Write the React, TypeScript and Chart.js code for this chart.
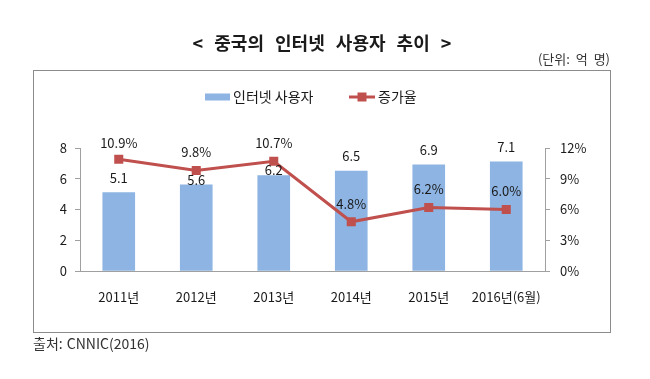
import React, { useEffect, useRef } from 'react';
import { Chart, registerables } from 'chart.js';

Chart.register(...registerables);

const categories = ['2011년', '2012년', '2013년', '2014년', '2015년', '2016년(6월)'];
const users = [5.1, 5.6, 6.2, 6.5, 6.9, 7.1];
const growth = [10.9, 9.8, 10.7, 4.8, 6.2, 6.0];
const seriesNames = ['인터넷 사용자', '증가율'];
const userAxis = { min: 0, max: 8, step: 2 };
const growthAxis = { min: 0, max: 12, step: 3 };
const titleText = '< 중국의 인터넷 사용자 추이 >';
const unitText = '(단위: 억 명)';
const sourceText = '출처: CNNIC(2016)';

// label lift above bar top / point (px)
const barLabelLift = [15, 5, 6, 15, 15, 15];
const pointLabelLift = [16, 18, 18, 18, 18, 18];

const FONT = '"Noto Sans CJK KR", "Noto Sans", sans-serif';
const BAR = '#8db4e2';
const RED = '#c0504d';
const AXIS = '#a0a0a0';
const TEXT = '#1a1a1a';

const decoPlugin = {
  id: 'deco',
  beforeDraw(chart: any) {
    const ctx = chart.ctx;
    ctx.save();
    ctx.fillStyle = '#ffffff';
    ctx.fillRect(0, 0, chart.width, chart.height);
    ctx.strokeStyle = '#8c8c8c';
    ctx.lineWidth = 1;
    ctx.strokeRect(33.5, 70.5, 577, 262);

    ctx.fillStyle = TEXT;
    ctx.textBaseline = 'middle';
    ctx.font = `bold 18px ${FONT}`;
    ctx.textAlign = 'center';
    (ctx as any).wordSpacing = '7px';
    ctx.fillText(titleText, 322, 43);

    ctx.font = `13px ${FONT}`;
    (ctx as any).wordSpacing = '3px';
    ctx.textAlign = 'right';
    ctx.fillStyle = '#333';
    ctx.fillText(unitText, 610, 59);

    (ctx as any).wordSpacing = '1px';
    ctx.textAlign = 'left';
    ctx.font = `14px ${FONT}`;
    ctx.fillText(sourceText, 33, 344);
    (ctx as any).wordSpacing = '0px';

    // legend
    const ly = 97;
    ctx.fillStyle = BAR;
    ctx.fillRect(205, ly - 3.5, 25, 7);
    ctx.fillStyle = TEXT;
    ctx.font = `14px ${FONT}`;
    ctx.fillText(chart.data.datasets[0].label, 233, ly);
    ctx.strokeStyle = RED;
    ctx.lineWidth = 3;
    ctx.beginPath();
    ctx.moveTo(349, ly);
    ctx.lineTo(375, ly);
    ctx.stroke();
    ctx.fillStyle = RED;
    ctx.fillRect(357.5, ly - 4.5, 9, 9);
    ctx.fillStyle = TEXT;
    ctx.fillText(chart.data.datasets[1].label, 378, ly);
    ctx.restore();
  },
  afterDatasetsDraw(chart: any) {
    const ctx = chart.ctx;
    ctx.save();
    ctx.fillStyle = TEXT;
    ctx.font = `13px ${FONT}`;
    ctx.textAlign = 'center';
    ctx.textBaseline = 'middle';
    const barMeta = chart.getDatasetMeta(0);
    barMeta.data.forEach((el: any, i: number) => {
      ctx.fillText(users[i].toFixed(1), el.x, el.y - barLabelLift[i]);
    });
    const lineMeta = chart.getDatasetMeta(1);
    lineMeta.data.forEach((el: any, i: number) => {
      ctx.fillText(growth[i].toFixed(1) + '%', el.x, el.y - pointLabelLift[i]);
    });
    ctx.restore();
  },
};

export default function App() {
  const ref = useRef<HTMLCanvasElement | null>(null);
  useEffect(() => {
    if (!ref.current) return;
    const chart = new Chart(ref.current, {
      type: 'bar',
      data: {
        labels: categories,
        datasets: [
          {
            type: 'bar',
            label: seriesNames[0],
            data: users,
            backgroundColor: BAR,
            barThickness: 32,
            yAxisID: 'y',
            order: 2,
          } as any,
          {
            type: 'line',
            label: seriesNames[1],
            data: growth,
            borderColor: RED,
            backgroundColor: RED,
            borderWidth: 3,
            pointStyle: 'rect',
            pointRadius: 6.4,
            pointBorderWidth: 0,
            pointBackgroundColor: RED,
            tension: 0,
            yAxisID: 'y1',
            order: 1,
          } as any,
        ],
      },
      options: {
        responsive: false,
        animation: false,
        devicePixelRatio: 1,
        layout: { padding: { top: 148, left: 0, right: 0, bottom: 0 } },
        plugins: { legend: { display: false }, title: { display: false }, tooltip: { enabled: false } },
        scales: {
          x: {
            offset: true,
            grid: { display: false, drawTicks: false },
            border: { display: true, color: AXIS, width: 1 },
            ticks: { color: TEXT, font: { family: FONT, size: 13 }, padding: 18, maxRotation: 0, autoSkip: false },
            afterFit: (s: any) => { s.height = 108; },
          },
          y: {
            position: 'left',
            min: userAxis.min,
            max: userAxis.max,
            grid: { drawOnChartArea: false, drawTicks: true, tickLength: 5, color: AXIS },
            border: { display: true, color: AXIS, width: 1 },
            ticks: { stepSize: userAxis.step, color: TEXT, font: { family: FONT, size: 13 }, padding: 8 },
            afterFit: (s: any) => { s.width = 80; },
          },
          y1: {
            position: 'right',
            min: growthAxis.min,
            max: growthAxis.max,
            grid: { drawOnChartArea: false, drawTicks: true, tickLength: 5, color: AXIS },
            border: { display: true, color: AXIS, width: 1 },
            ticks: {
              stepSize: growthAxis.step,
              color: TEXT,
              font: { family: FONT, size: 13 },
              padding: 10,
              callback: (v: any) => v + '%',
            },
            afterFit: (s: any) => { s.width = 105; },
          },
        },
      },
      plugins: [decoPlugin],
    });
    return () => chart.destroy();
  }, []);
  return (
    <div style={{ position: 'absolute', left: 0, top: 0, width: 650, height: 379 }}>
      <canvas ref={ref} width={650} height={379} style={{ width: 650, height: 379, display: 'block' }} />
    </div>
  );
}
